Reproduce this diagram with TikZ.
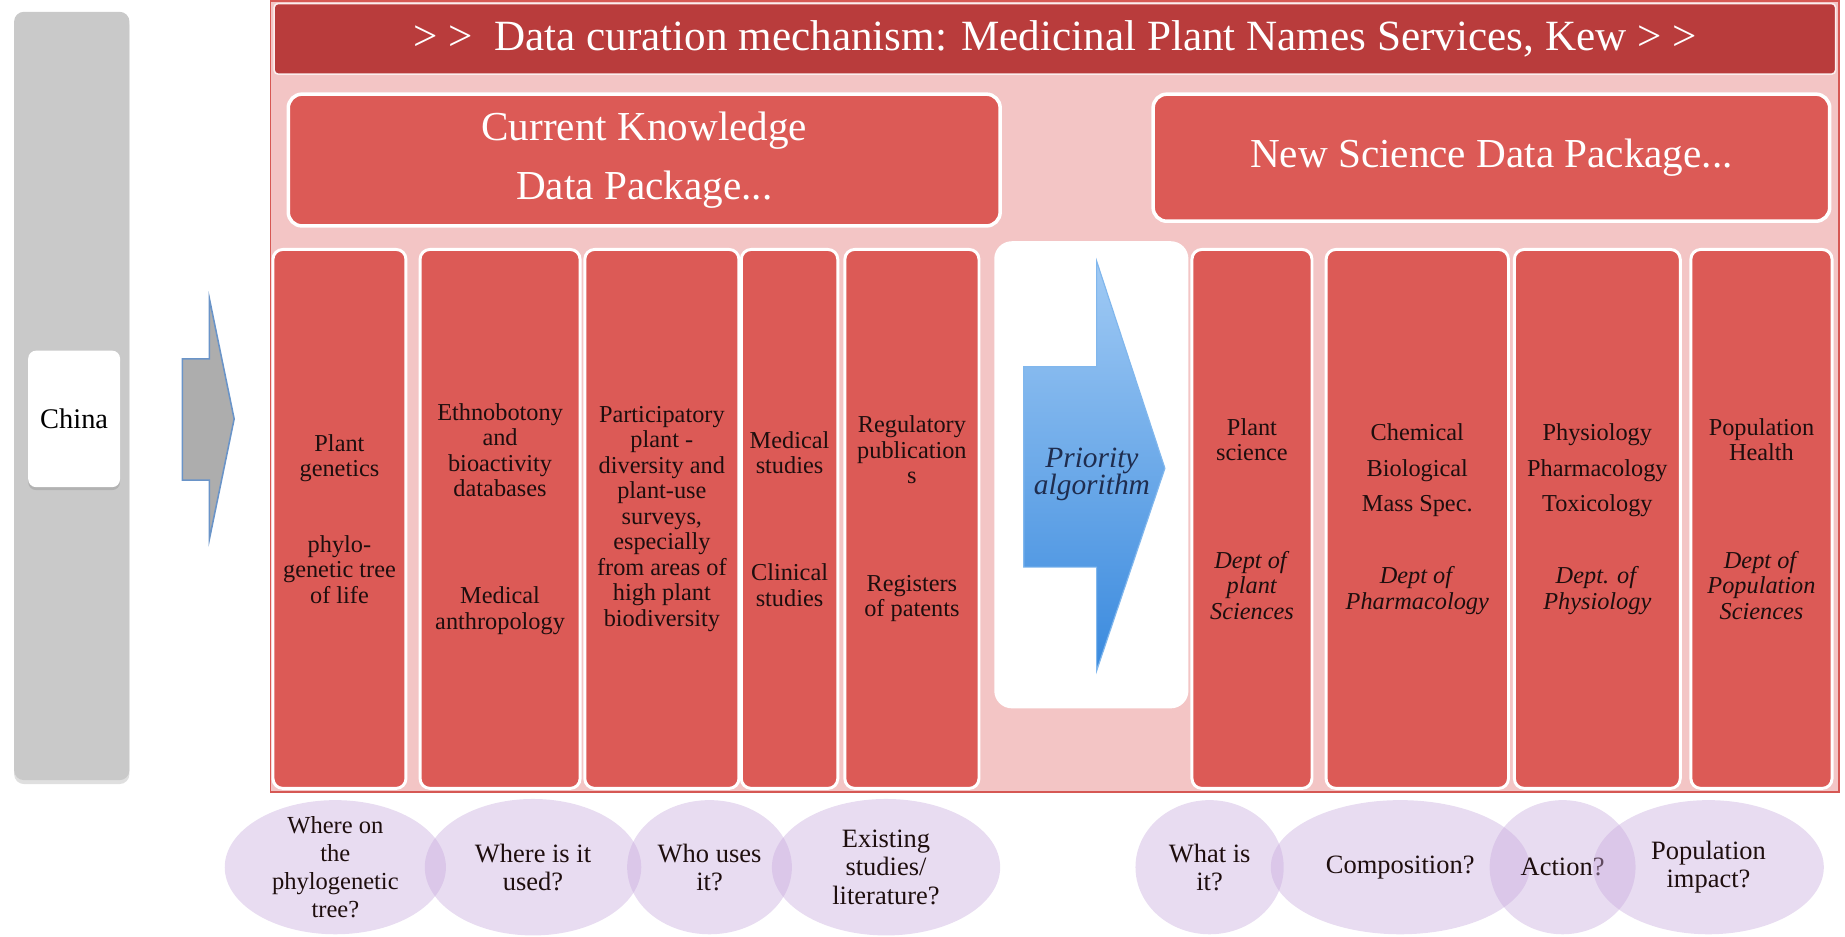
\documentclass[tikz,border=0pt]{standalone}
\usepackage{fontspec}
\setmainfont{Liberation Serif}
\usepackage{tikz}
\usetikzlibrary{positioning}
\usetikzlibrary{shapes.geometric}
\usetikzlibrary{shadows}
\definecolor{barGray}{RGB}{201,201,201}
\definecolor{arrowGray}{RGB}{173,173,173}
\definecolor{arrowEdge}{RGB}{106,148,200}
\definecolor{pinkBg}{RGB}{243,197,197}
\definecolor{frameRed}{RGB}{214,88,84}
\definecolor{titleRed}{RGB}{185,60,60}
\definecolor{boxRed}{RGB}{220,90,86}
\definecolor{inkDark}{RGB}{30,14,14}
\definecolor{prioBlue}{RGB}{31,45,79}
\definecolor{bubble}{RGB}{198,168,220}
\definecolor{blueTop}{RGB}{160,202,244}
\definecolor{blueBottom}{RGB}{58,138,222}
\tikzset{
	regionbar/.style={
		rectangle,
		rounded corners=5pt,
		fill=barGray,
		minimum width=58.8pt,
		minimum height=391.8pt,
		drop shadow={opacity=0.25, shadow xshift=0pt, shadow yshift=-2pt}},
	countrybox/.style={
		rectangle,
		rounded corners=4pt,
		fill=white,
		minimum width=46.8pt,
		minimum height=69.6pt,
		font=\fontsize{14.5}{16}\selectfont,
		drop shadow={opacity=0.3, shadow xshift=0pt, shadow yshift=-1.5pt}},
	titlebar/.style={
		rectangle,
		rounded corners=2pt,
		fill=titleRed, draw=white!70!pinkBg, line width=0.8pt,
		minimum width=796.2pt,
		minimum height=36pt,
		text=white,
		font=\fontsize{22}{26}\selectfont},
	package/.style={
		rectangle,
		rounded corners=7pt,
		fill=boxRed, draw=white, line width=1.8pt,
		minimum height=67.2pt,
		text=white, align=center,
		font=\fontsize{21}{30}\selectfont},
	column/.style={
		rectangle,
		rounded corners=5pt,
		fill=boxRed, draw=white, line width=1.5pt,
		minimum height=274.8pt,
		inner sep=0pt, outer sep=0pt,
		text=inkDark, align=center,
		font=\fontsize{12.4}{13}\selectfont},
	question/.style={
		ellipse,
		fill=bubble, fill opacity=0.4,
		minimum height=68.4pt,
		inner sep=0pt},
	qlabel/.style={
		text=inkDark, text opacity=1, align=center,
		font=\fontsize{13.5}{14.4}\selectfont},
}
\begin{document}
\begin{tikzpicture}[x=1pt,y=-1pt]
	\useasboundingbox (0,0) rectangle (940.8,477.6);
	% source region
	\node[regionbar] (region) at (36.6,201.9) {};
	\node[countrybox] (china) at (37.8,213.6) {China};
	\draw[fill=arrowGray, draw=arrowEdge, line width=0.8pt]
		(93,183) -- (106.8,183) -- (106.8,152.4) -- (119.4,213.6)
		-- (106.8,274.8) -- (106.8,244.8) -- (93,244.8) -- cycle;
	% curation frame
	\node[rectangle, fill=pinkBg, draw=frameRed, line width=0.8pt,
		minimum width=799.8pt, minimum height=403.2pt] (frame) at (537.9,202.2) {};
	\node[titlebar] (title) at (537.9,19.8)
		{> >\ \ Data curation mechanism: Medicinal Plant Names Services, Kew > >};
	\node[package, minimum width=363pt] (current) at (328.5,81.6) {Current Knowledge\\Data Package...};
	\node[package, minimum width=345pt, minimum height=64.8pt] (newsci) at (760.5,80.4) {New Science Data Package...};
	% current knowledge
	\node[column, minimum width=67.8pt] (genetics) at (173.1,264.6)
		{Plant\\genetics\\[25.4pt]phylo-\\genetic tree\\of life};
	\node[column, minimum width=81.6pt, right=7.2pt of genetics] (ethno)
		{Ethnobotony\\and\\bioactivity\\databases\\[41.6pt]Medical\\anthropology};
	\node[column, minimum width=78.6pt, right=2.4pt of ethno] (survey)
		{Participatory\\plant -\\diversity and\\plant-use\\surveys,\\especially\\from areas of\\high plant\\biodiversity};
	\node[column, minimum width=49.2pt, right=1.2pt of survey] (studies)
		{Medical\\studies\\[41.6pt]Clinical\\studies};
	\node[column, minimum width=68.4pt, right=3.6pt of studies] (regulatory)
		{Regulatory\\publication\\s\\[41.6pt]Registers\\of patents};
	% priority
	\node[rectangle, rounded corners=9pt, fill=white,
		minimum width=99pt, minimum height=238.2pt] (prio) at (556.5,242.1) {};
	\shadedraw[top color=blueTop, bottom color=blueBottom, draw=blueTop!70!blueBottom, line width=0.6pt]
		(522,187) -- (559.2,187) -- (559.2,133.2) -- (594,238.8)
		-- (559.2,342) -- (559.2,289.2) -- (522,289.2) -- cycle;
	\node[text=prioBlue, align=center, font=\fontsize{15}{14}\selectfont\itshape] (algo) at (556.8,241.8)
		{Priority\\algorithm};
	% new science
	\node[column, minimum width=61.2pt, right=108.6pt of regulatory] (plantsci)
		{Plant\\science\\[41.6pt]\textit{Dept of}\\\textit{plant}\\\textit{Sciences}};
	\node[column, minimum width=93pt, right=7.2pt of plantsci] (chem)
		{Chemical\\[5.3pt]Biological\\[5.3pt]Mass Spec.\\[23.6pt]\textit{Dept of}\\\textit{Pharmacology}};
	\node[column, minimum width=84.6pt, right=3pt of chem] (physio)
		{Physiology\\[5.3pt]Pharmacology\\[5.3pt]Toxicology\\[23.6pt]\textit{Dept. of}\\\textit{Physiology}};
	\node[column, minimum width=72pt, right=5.4pt of physio] (pophealth)
		{Population\\Health\\[41.6pt]\textit{Dept of}\\\textit{Population}\\\textit{Sciences}};
	% questions
	\node[question, minimum width=112.8pt,
		label={[qlabel, font=\fontsize{12.5}{14.4}\selectfont]center:{Where on\\the\\phylogenetic\\tree?}}] (qtree) at (171,442.2) {};
	\node[question, minimum width=110.4pt, minimum height=69.6pt,
		label={[qlabel]center:{Where is it\\used?}}] (qwhere) at (271.8,442.2) {};
	\node[question, minimum width=84pt,
		label={[qlabel]center:{Who uses\\it?}}] (qwho) at (361.8,442.2) {};
	\node[question, minimum width=116.4pt, minimum height=69.6pt,
		label={[qlabel]center:{Existing\\studies/\\literature?}}] (qlit) at (451.8,442.2) {};
	\node[question, minimum width=75.6pt,
		label={[qlabel]center:{What is\\it?}}] (qwhat) at (616.8,442.2) {};
	\node[question, minimum width=132pt,
		label={[qlabel]center:{Composition?}}] (qcomp) at (714,442.2) {};
	\node[question, minimum width=74.4pt,
		label={[qlabel]center:{Action?}}] (qaction) at (796.8,442.2) {};
	\node[question, minimum width=117.6pt,
		label={[qlabel]center:{Population\\impact?}}] (qimpact) at (871.2,442.2) {};
\end{tikzpicture}
\end{document}
